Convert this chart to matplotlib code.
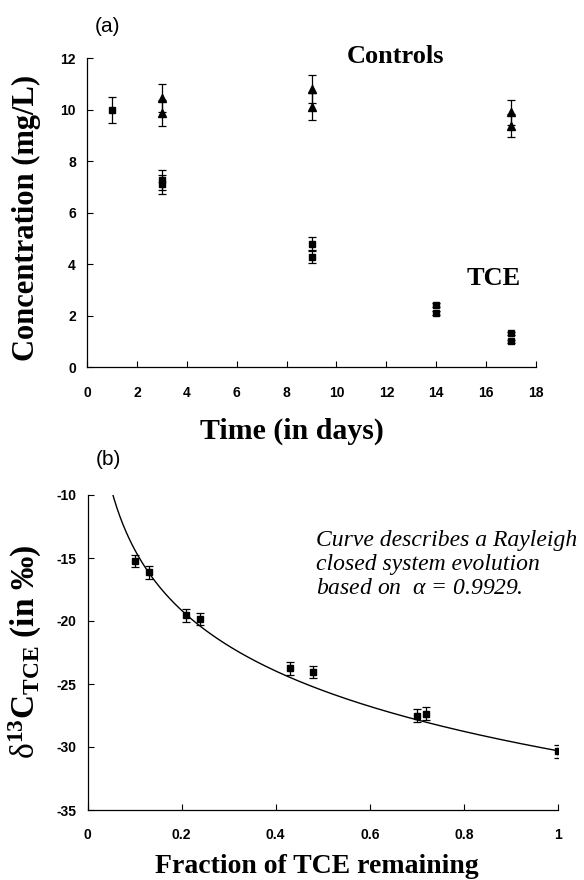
import numpy as np
import matplotlib
matplotlib.use('Agg')
import matplotlib.pyplot as plt

plt.rcParams['font.family'] = 'Liberation Sans'
plt.rcParams['axes.unicode_minus'] = False
plt.rcParams['mathtext.fontset'] = 'custom'
plt.rcParams['mathtext.rm'] = 'Liberation Serif'
plt.rcParams['mathtext.bf'] = 'Liberation Serif:bold'
plt.rcParams['mathtext.it'] = 'Liberation Serif:italic'

# (a) concentration vs time
tce_days = [1, 3, 3, 9, 9, 14, 14, 17, 17]
tce_conc = [10.0, 7.28, 7.11, 4.80, 4.29, 2.42, 2.11, 1.33, 1.01]
tce_err = [0.5, 0.4, 0.38, 0.25, 0.22, 0.08, 0.08, 0.05, 0.05]
ctrl_days = [3, 3, 9, 9, 17, 17]
ctrl_conc = [10.47, 9.89, 10.80, 10.12, 9.90, 9.39]
ctrl_err = [0.55, 0.5, 0.55, 0.52, 0.5, 0.45]

# (b) isotope values vs fraction remaining
frac = [0.10, 0.13, 0.21, 0.24, 0.43, 0.48, 0.70, 0.72, 1.0]
d13c = [-15.25, -16.15, -19.55, -19.85, -23.75, -24.05, -27.5, -27.35, -30.35]
d13c_err = [0.5, 0.5, 0.5, 0.5, 0.5, 0.5, 0.5, 0.5, 0.5]

# Rayleigh model parameters
alpha = 0.9929
delta0 = -30.3

W, H = 584, 880
fig = plt.figure(figsize=(W / 100, H / 100), dpi=100)

serif = 'Liberation Serif'
tick_kw = dict(direction='in', length=4, width=0.8, labelsize=10)


def style(ax):
    for s in ['top', 'right']:
        ax.spines[s].set_visible(False)
    for s in ['left', 'bottom']:
        ax.spines[s].set_linewidth(0.9)
    ax.tick_params(axis='y', pad=8, **tick_kw)
    ax.tick_params(axis='x', pad=13, **tick_kw)
    for lab in ax.get_xticklabels() + ax.get_yticklabels():
        lab.set_fontweight('bold')


# ---- panel (a)
ax1 = fig.add_axes([87 / W, 1 - 367.5 / H, 449 / W, 309.2 / H])
ax1.errorbar(tce_days, tce_conc, yerr=tce_err, fmt='s', color='black',
             ms=5, elinewidth=0.9, capsize=3, capthick=0.9)
ax1.errorbar(ctrl_days, ctrl_conc, yerr=ctrl_err, fmt='^', color='black',
             ms=5.5, elinewidth=0.9, capsize=3, capthick=0.9)
ax1.set_xlim(0, 18)
ax1.set_ylim(0, 12)
ax1.set_xticks(range(0, 19, 2))
ax1.set_yticks(range(0, 13, 2))
style(ax1)
ax1.text(12.37, 11.8, 'Controls', family=serif, weight='bold', fontsize=19,
         ha='center', va='baseline')
ax1.text(16.3, 3.2, 'TCE', family=serif, weight='bold', fontsize=19,
         ha='center', va='baseline')

fig.text(107 / W, 1 - 26 / H, '(a)', fontsize=15, ha='center', va='center')
fig.text(26 / W, 1 - 217.5 / H, 'Concentration (mg/L)', family=serif,
         weight='bold', fontsize=22, rotation=90, ha='center', va='center')
fig.text(292 / W, 1 - 431 / H, 'Time (in days)', family=serif,
         weight='bold', fontsize=21.5, ha='center', va='center')

# ---- panel (b)
ax2 = fig.add_axes([87.5 / W, 1 - 810 / H, 470.5 / W, 315 / H])
f = np.linspace(0.05, 1.0, 300)
ax2.plot(f, (delta0 + 1000) * f ** (alpha - 1) - 1000, color='black', lw=1)
ax2.errorbar(frac, d13c, yerr=d13c_err, fmt='s', color='black',
             ms=5, elinewidth=0.9, capsize=3, capthick=0.9)
ax2.set_xlim(0, 1)
ax2.set_ylim(-35, -10)
ax2.set_xticks([0, 0.2, 0.4, 0.6, 0.8, 1.0])
ax2.set_xticklabels(['0', '0.2', '0.4', '0.6', '0.8', '1'])
ax2.set_yticks(range(-35, -9, 5))
style(ax2)

fig.text(108 / W, 1 - 459 / H, '(b)', fontsize=15, ha='center', va='center')
ylab_b = ('$\\mathrm{\u03b4}^{\\mathbf{13}}\\mathbf{C}_{\\mathbf{TCE}}$'
          ' (in \u2030)')
fig.text(25 / W, 1 - 652 / H, ylab_b,
         family=serif, weight='bold', fontsize=24, rotation=90,
         ha='center', va='center')
fig.text(317 / W, 1 - 866 / H, 'Fraction of TCE remaining', family=serif,
         weight='bold', fontsize=20, ha='center', va='center')
fig.text(316 / W, 1 - 530 / H,
         'Curve describes a Rayleigh\nclosed system evolution\n'
         r'based on  $\alpha$ = 0.9929.',
         family=serif, style='italic', fontsize=17, linespacing=1.2,
         ha='left', va='top')

fig.savefig('out.png', dpi=100)
